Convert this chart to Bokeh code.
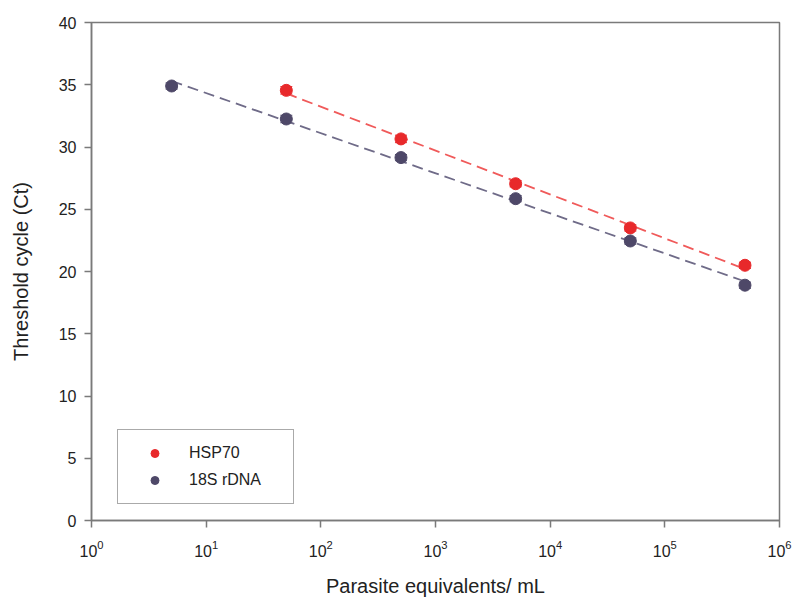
import numpy as np
from bokeh.plotting import figure
from bokeh.models import ColumnDataSource, Whisker, Legend, LegendItem, FixedTicker
from bokeh.embed import file_html
from bokeh.resources import INLINE

# Standard curves: Ct vs parasite equivalents per mL
hsp70_conc = [5e1, 5e2, 5e3, 5e4, 5e5]
hsp70_ct = [34.55, 30.65, 27.05, 23.5, 20.5]
hsp70_err = [0.3, 0.3, 0.25, 0.25, 0.25]

rdna_conc = [5e0, 5e1, 5e2, 5e3, 5e4, 5e5]
rdna_ct = [34.9, 32.25, 29.15, 25.85, 22.45, 18.9]
rdna_err = [0.25, 0.3, 0.25, 0.25, 0.25, 0.25]

x_ticks = [1, 10, 100, 1000, 10000, 100000, 1000000]
y_ticks = [0, 5, 10, 15, 20, 25, 30, 35, 40]

RED = "#e8292b"
RED_LINE = "#f05a5a"
PURPLE = "#4e4868"
PURPLE_LINE = "#6f6b88"
FRAME = "#7a7a7a"
FONT = "Liberation Sans"

p = figure(width=795, height=601, x_axis_type="log",
           x_range=(1, 1e6), y_range=(0, 40),
           output_backend="svg", toolbar_location=None,
           min_border_left=91, min_border_right=16,
           min_border_top=22, min_border_bottom=81)
p.grid.visible = False
p.outline_line_color = FRAME
p.outline_line_width = 1.5
p.background_fill_color = "white"
p.border_fill_color = "white"


def fit_line(conc, ct):
    lx = np.log10(conc)
    slope, icpt = np.polyfit(lx, ct, 1)
    xs = np.array([min(conc), max(conc)])
    return xs, slope * np.log10(xs) + icpt


for conc, ct, err, col, lcol in [
    (hsp70_conc, hsp70_ct, hsp70_err, RED, RED_LINE),
    (rdna_conc, rdna_ct, rdna_err, PURPLE, PURPLE_LINE),
]:
    xs, ys = fit_line(conc, ct)
    p.line(xs, ys, line_color=lcol, line_width=1.8, line_dash="11 6")

src_h = ColumnDataSource(dict(x=hsp70_conc, y=hsp70_ct,
                              lo=[c - e for c, e in zip(hsp70_ct, hsp70_err)],
                              hi=[c + e for c, e in zip(hsp70_ct, hsp70_err)]))
src_r = ColumnDataSource(dict(x=rdna_conc, y=rdna_ct,
                              lo=[c - e for c, e in zip(rdna_ct, rdna_err)],
                              hi=[c + e for c, e in zip(rdna_ct, rdna_err)]))

for src, col in [(src_h, RED), (src_r, PURPLE)]:
    w = Whisker(source=src, base="x", lower="lo", upper="hi",
                line_color=col, line_width=1.2)
    w.upper_head.size = 12
    w.lower_head.size = 12
    w.upper_head.line_color = col
    w.lower_head.line_color = col
    p.add_layout(w)

r_h = p.scatter("x", "y", source=src_h, size=12, fill_color=RED, line_color=RED)
r_r = p.scatter("x", "y", source=src_r, size=12, fill_color=PURPLE, line_color=PURPLE)

legend = Legend(items=[LegendItem(label="HSP70", renderers=[r_h]),
                       LegendItem(label="18S rDNA", renderers=[r_r])],
                location=(26, 16), padding=13, spacing=7,
                glyph_width=47, glyph_height=20, label_height=20,
                label_width=91, label_standoff=11,
                label_text_font=FONT, label_text_font_size="16px",
                label_text_color="#222222",
                border_line_color="#555555", border_line_width=1.2,
                background_fill_alpha=1.0)
p.add_layout(legend)

for ax in (p.xaxis[0], p.yaxis[0]):
    ax.axis_line_color = FRAME
    ax.axis_line_width = 1.5
    ax.major_tick_line_color = FRAME
    ax.major_tick_line_width = 1.5
    ax.major_tick_in = 0
    ax.major_tick_out = 7
    ax.minor_tick_line_color = None
    ax.major_label_text_font = FONT
    ax.major_label_text_font_size = "16px"
    ax.major_label_text_color = "#222222"
    ax.axis_label_text_font = FONT
    ax.axis_label_text_font_size = "20px"
    ax.axis_label_text_font_style = "normal"
    ax.axis_label_text_color = "#222222"

p.xaxis[0].ticker = FixedTicker(ticks=x_ticks)
p.yaxis[0].ticker = FixedTicker(ticks=y_ticks)
p.xaxis[0].axis_label = "Parasite equivalents/ mL"
p.yaxis[0].axis_label = "Threshold cycle (Ct)"
p.xaxis[0].major_label_standoff = 12
p.xaxis[0].axis_label_standoff = 15
p.yaxis[0].major_label_standoff = 8
p.yaxis[0].axis_label_standoff = 24

open("out.html", "w").write(file_html(p, INLINE))
